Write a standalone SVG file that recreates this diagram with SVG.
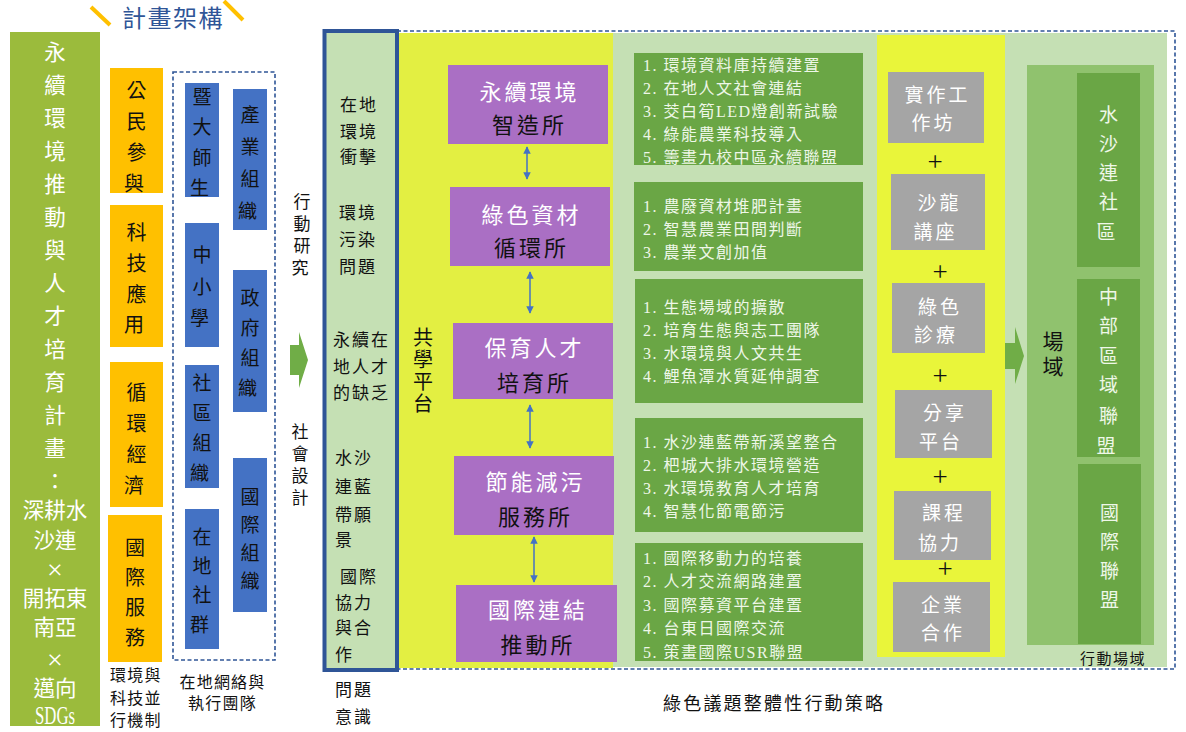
<svg xmlns="http://www.w3.org/2000/svg" width="1186" height="732" viewBox="0 0 1186 732">
<defs>
<style>
text{font-family:'Liberation Serif','Noto Sans CJK TC',serif;}
.w{fill:#ffffff}
.k{fill:#111111}
.lt{fill:#eef7e8}
.og{fill:#FFC000}
.bl{fill:#4472C4}
.pu{fill:#AA6FC4}
.dg{fill:#6AA645}
.gr{fill:#A5A5A5}
.dash{fill:none;stroke:#2F5597;stroke-width:1.6;stroke-dasharray:4 2.5}
.dbl{stroke:#4472C4;stroke-width:1.5;fill:none;marker-start:url(#ah);marker-end:url(#ah)}
.garrow{fill:#70AD47}
</style>
<marker id="ah" viewBox="0 0 10 10" refX="9" refY="5" markerWidth="5" markerHeight="5" orient="auto-start-reverse">
<path d="M0,0 L10,5 L0,10 z" fill="#4472C4"/>
</marker>
</defs>
<rect x="0" y="0" width="1186" height="732" fill="#ffffff"/>

<g id="title">
<line x1="91" y1="7" x2="110" y2="25" stroke="#FFC000" stroke-width="4"/>
<line x1="224" y1="1" x2="243" y2="20" stroke="#FFC000" stroke-width="4"/>
<text x="122" y="27" font-size="24" letter-spacing="1.5" fill="#2F5597">計畫架構</text>
</g>

<g id="plan">
<rect x="10" y="32" width="90" height="694" fill="#9BBB3C"/>
<text class="w" font-size="21.5" text-anchor="middle">
<tspan x="55" y="59.5">永</tspan><tspan x="55" y="92.5">續</tspan><tspan x="55" y="125.5">環</tspan><tspan x="55" y="158.5">境</tspan><tspan x="55" y="191.5">推</tspan><tspan x="55" y="224.5">動</tspan><tspan x="55" y="257.5">與</tspan><tspan x="55" y="290.5">人</tspan><tspan x="55" y="323.5">才</tspan><tspan x="55" y="356.5">培</tspan><tspan x="55" y="389.5">育</tspan><tspan x="55" y="422.5">計</tspan><tspan x="55" y="455.5">畫</tspan><tspan x="55" y="488.5">：</tspan><tspan x="55" y="517.5">深耕水</tspan><tspan x="55" y="547.5">沙連</tspan><tspan x="55" y="605.5">開拓東</tspan><tspan x="55" y="634.5">南亞</tspan><tspan x="55" y="695.5">邁向</tspan>
</text>
<text class="w" font-size="28" text-anchor="middle"><tspan x="55" y="579">×</tspan><tspan x="55" y="669">×</tspan></text>
<text class="w" x="55" y="724" font-size="25" text-anchor="middle" textLength="40" lengthAdjust="spacingAndGlyphs">SDGs</text>
</g>

<g id="mechanism">
<rect class="og" x="110" y="68" width="53" height="125"/>
<rect class="og" x="110" y="205" width="53" height="142"/>
<rect class="og" x="110" y="362" width="53" height="145"/>
<rect class="og" x="108" y="515" width="54" height="147"/>
<text class="k" font-size="20" text-anchor="middle">
<tspan x="136.5" y="98">公</tspan><tspan x="136.5" y="129">民</tspan><tspan x="136.5" y="160">參</tspan><tspan x="136.5" y="191">與</tspan>
<tspan x="136.5" y="240">科</tspan><tspan x="136.5" y="271">技</tspan><tspan x="136.5" y="302">應</tspan><tspan x="136.5" y="332">用</tspan>
<tspan x="136.5" y="400">循</tspan><tspan x="136.5" y="431">環</tspan><tspan x="136.5" y="462">經</tspan><tspan x="136.5" y="493">濟</tspan>
<tspan x="135" y="555">國</tspan><tspan x="135" y="585">際</tspan><tspan x="135" y="615">服</tspan><tspan x="135" y="645">務</tspan>
</text>
<text class="k" font-size="16" letter-spacing="1.2" x="110">
<tspan x="110" y="681">環境與</tspan><tspan x="110" y="704">科技並</tspan><tspan x="110" y="726">行機制</tspan>
</text>
</g>

<g id="network">
<rect class="dash" x="173" y="72" width="102" height="588"/>
<rect class="bl" x="185" y="83" width="34" height="114"/>
<rect class="bl" x="185" y="223" width="34" height="124"/>
<rect class="bl" x="185" y="365" width="34" height="123"/>
<rect class="bl" x="185" y="509" width="34" height="140"/>
<rect class="bl" x="233" y="89" width="34" height="141"/>
<rect class="bl" x="233" y="270" width="34" height="142"/>
<rect class="bl" x="233" y="458" width="34" height="154"/>
<text class="k" font-size="19" text-anchor="middle">
<tspan x="202" y="104">暨</tspan><tspan x="202" y="134">大</tspan><tspan x="202" y="165">師</tspan><tspan x="202" y="195">生</tspan>
<tspan x="202" y="262">中</tspan><tspan x="202" y="294">小</tspan><tspan x="202" y="325">學</tspan>
<tspan x="202" y="390">社</tspan><tspan x="202" y="420">區</tspan><tspan x="202" y="450">組</tspan><tspan x="202" y="480">織</tspan>
<tspan x="202" y="544">在</tspan><tspan x="202" y="573">地</tspan><tspan x="202" y="602">社</tspan><tspan x="202" y="632">群</tspan>
<tspan x="250" y="122">產</tspan><tspan x="250" y="154">業</tspan><tspan x="250" y="186">組</tspan><tspan x="250" y="218">織</tspan>
<tspan x="250" y="305">政</tspan><tspan x="250" y="335">府</tspan><tspan x="250" y="365">組</tspan><tspan x="250" y="395">織</tspan>
<tspan x="250" y="504">國</tspan><tspan x="250" y="532">際</tspan><tspan x="250" y="560">組</tspan><tspan x="250" y="588">織</tspan>
</text>
<text class="k" font-size="16" letter-spacing="1.2" text-anchor="middle">
<tspan x="222.5" y="688">在地網絡與</tspan><tspan x="222.5" y="709">執行團隊</tspan>
</text>
</g>

<g id="method">
<text class="k" font-size="17" text-anchor="middle">
<tspan x="302" y="208">行</tspan><tspan x="302" y="230">動</tspan><tspan x="302" y="252">研</tspan><tspan x="302" y="274">究</tspan>
<tspan x="300" y="438">社</tspan><tspan x="300" y="460">會</tspan><tspan x="300" y="482">設</tspan><tspan x="300" y="504">計</tspan>
</text>
<polygon class="garrow" points="290,345 299,345 299,332 308,360 299,388 299,375 290,375"/>
</g>

<g id="field-bg">
<rect x="399" y="33" width="214" height="635" fill="#E3EF42"/>
<rect x="613" y="33" width="554" height="634" fill="#C5E0B4"/>
<rect x="877" y="35" width="128" height="622" fill="#E9F53A"/>
<rect class="dash" x="397" y="31" width="778" height="638"/>
</g>

<g id="problems">
<rect x="324.5" y="31" width="72.5" height="639" fill="#C5E0B4" stroke="#2F5597" stroke-width="4"/>
<text class="k" font-size="17" letter-spacing="2">
<tspan x="340" y="111">在地</tspan><tspan x="340" y="138">環境</tspan><tspan x="340" y="163">衝擊</tspan>
<tspan x="339" y="219">環境</tspan><tspan x="339" y="246">污染</tspan><tspan x="339" y="273">問題</tspan>
<tspan x="333" y="346">永續在</tspan><tspan x="333" y="373">地人才</tspan><tspan x="333" y="399">的缺乏</tspan>
<tspan x="335" y="464">水沙</tspan><tspan x="335" y="493">連藍</tspan><tspan x="335" y="521">帶願</tspan><tspan x="335" y="546">景</tspan>
<tspan x="340" y="583">國際</tspan><tspan x="335" y="609">協力</tspan><tspan x="335" y="634">與合</tspan><tspan x="335" y="661">作</tspan>
</text>
<text class="k" font-size="17" letter-spacing="2">
<tspan x="335" y="696">問題</tspan><tspan x="335" y="723">意識</tspan>
</text>
</g>

<g id="platform">
<text class="k" font-size="20" text-anchor="middle">
<tspan x="423" y="345">共</tspan><tspan x="423" y="367">學</tspan><tspan x="423" y="389">平</tspan><tspan x="423" y="411">台</tspan>
</text>
</g>

<g id="office1">
<rect class="pu" x="448" y="65" width="160" height="79"/>
<text font-size="22" letter-spacing="3" text-anchor="middle"><tspan class="w" x="529.5" y="100">永續環境</tspan><tspan class="k" x="529.5" y="133">智造所</tspan></text>
</g>
<g id="office2">
<rect class="pu" x="450" y="187" width="160" height="79"/>
<text font-size="22" letter-spacing="3" text-anchor="middle"><tspan class="w" x="531.5" y="223">綠色資材</tspan><tspan class="k" x="531.5" y="256">循環所</tspan></text>
</g>
<g id="office3">
<rect class="pu" x="453" y="323" width="160" height="76"/>
<text font-size="22" letter-spacing="3" text-anchor="middle"><tspan class="w" x="534.5" y="356">保育人才</tspan><tspan class="k" x="534.5" y="391">培育所</tspan></text>
</g>
<g id="office4">
<rect class="pu" x="454" y="456" width="160" height="79"/>
<text font-size="22" letter-spacing="3" text-anchor="middle"><tspan class="w" x="535.5" y="490">節能減污</tspan><tspan class="k" x="535.5" y="525">服務所</tspan></text>
</g>
<g id="office5">
<rect class="pu" x="456" y="585" width="161" height="77"/>
<text font-size="22" letter-spacing="3" text-anchor="middle"><tspan class="w" x="538" y="618">國際連結</tspan><tspan class="k" x="538" y="653">推動所</tspan></text>
</g>

<g id="connectors">
<line class="dbl" x1="527" y1="147" x2="527" y2="179"/>
<line class="dbl" x1="530" y1="272" x2="530" y2="313"/>
<line class="dbl" x1="530" y1="405" x2="530" y2="448"/>
<line class="dbl" x1="534" y1="537" x2="534" y2="582"/>
</g>

<g id="strategy1">
<rect class="dg" x="634" y="53" width="229" height="112"/>
<text class="lt" font-size="16" letter-spacing="1.5">
<tspan x="643" y="71">1. 環境資料庫持續建置</tspan><tspan x="643" y="94">2. 在地人文社會連結</tspan><tspan x="643" y="117">3. 茭白筍LED燈創新試驗</tspan><tspan x="643" y="140">4. 綠能農業科技導入</tspan><tspan x="643" y="163">5. 籌畫九校中區永續聯盟</tspan>
</text>
</g>
<g id="strategy2">
<rect class="dg" x="634" y="182" width="229" height="89"/>
<text class="lt" font-size="16" letter-spacing="1.5">
<tspan x="643" y="212">1. 農廢資材堆肥計畫</tspan><tspan x="643" y="235">2. 智慧農業田間判斷</tspan><tspan x="643" y="258">3. 農業文創加值</tspan>
</text>
</g>
<g id="strategy3">
<rect class="dg" x="635" y="279" width="228" height="124"/>
<text class="lt" font-size="16" letter-spacing="1.5">
<tspan x="643" y="313">1. 生態場域的擴散</tspan><tspan x="643" y="336">2. 培育生態與志工團隊</tspan><tspan x="643" y="359">3. 水環境與人文共生</tspan><tspan x="643" y="382">4. 鯉魚潭水質延伸調查</tspan>
</text>
</g>
<g id="strategy4">
<rect class="dg" x="635" y="418" width="228" height="114"/>
<text class="lt" font-size="16" letter-spacing="1.5">
<tspan x="643" y="448">1. 水沙連藍帶新溪望整合</tspan><tspan x="643" y="471">2. 杷城大排水環境營造</tspan><tspan x="643" y="494">3. 水環境教育人才培育</tspan><tspan x="643" y="517">4. 智慧化節電節污</tspan>
</text>
</g>
<g id="strategy5">
<rect class="dg" x="635" y="543" width="228" height="118"/>
<text class="lt" font-size="16" letter-spacing="1.5">
<tspan x="643" y="564">1. 國際移動力的培養</tspan><tspan x="643" y="587">2. 人才交流網路建置</tspan><tspan x="643" y="611">3. 國際募資平台建置</tspan><tspan x="643" y="634">4. 台東日國際交流</tspan><tspan x="643" y="658">5. 策畫國際USR聯盟</tspan>
</text>
</g>
<text class="k" x="663" y="710" font-size="18" letter-spacing="2.2">綠色議題整體性行動策略</text>

<g id="activities">
<rect class="gr" x="888" y="72" width="96" height="71"/>
<rect class="gr" x="891" y="174" width="94" height="76"/>
<rect class="gr" x="892" y="283" width="93" height="70"/>
<rect class="gr" x="895" y="390" width="97" height="68"/>
<rect class="gr" x="894" y="491" width="97" height="69"/>
<rect class="gr" x="893" y="582" width="97" height="70"/>
<text class="w" font-size="19" letter-spacing="3" text-anchor="middle">
<tspan x="937.5" y="102">實作工</tspan><tspan x="937.5" y="130">作坊</tspan>
<tspan x="939.5" y="210">沙龍</tspan><tspan x="939.5" y="239">講座</tspan>
<tspan x="940" y="314">綠色</tspan><tspan x="940" y="342">診療</tspan>
<tspan x="945" y="420">分享</tspan><tspan x="945" y="449">平台</tspan>
<tspan x="944" y="520">課程</tspan><tspan x="944" y="550">協力</tspan>
<tspan x="943" y="612">企業</tspan><tspan x="943" y="640">合作</tspan>
</text>
<text class="k" font-size="27" text-anchor="middle">
<tspan x="935" y="171">+</tspan><tspan x="940" y="281">+</tspan><tspan x="940" y="385">+</tspan><tspan x="940" y="486">+</tspan><tspan x="945" y="578">+</tspan>
</text>
</g>

<g id="arrow-field">
<polygon class="garrow" points="1005,343 1015,343 1015,327 1024,356 1015,384 1015,369 1005,369"/>
</g>

<g id="fields">
<rect x="1027" y="65" width="127" height="580" fill="#90C26E"/>
<text class="k" font-size="21" text-anchor="middle"><tspan x="1053" y="349">場</tspan><tspan x="1053" y="374">域</tspan></text>
<rect class="dg" x="1077" y="73" width="63" height="194"/>
<rect class="dg" x="1077" y="279" width="63" height="178"/>
<rect class="dg" x="1078" y="464" width="63" height="180"/>
<text class="lt" font-size="19" text-anchor="middle">
<tspan x="1108.5" y="122">水</tspan><tspan x="1108.5" y="151">沙</tspan><tspan x="1108.5" y="180">連</tspan><tspan x="1108.5" y="209">社</tspan><tspan x="1108.5" y="239">區</tspan>
<tspan x="1108.5" y="304">中</tspan><tspan x="1108.5" y="333">部</tspan><tspan x="1108.5" y="363">區</tspan><tspan x="1108.5" y="392">域</tspan><tspan x="1108.5" y="423">聯</tspan><tspan x="1108.5" y="453">盟</tspan>
<tspan x="1109.5" y="520">國</tspan><tspan x="1109.5" y="549">際</tspan><tspan x="1109.5" y="578">聯</tspan><tspan x="1109.5" y="607">盟</tspan>
</text>
<text class="k" x="1113" y="664" font-size="15" letter-spacing="1.5" text-anchor="middle">行動場域</text>
</g>
</svg>
